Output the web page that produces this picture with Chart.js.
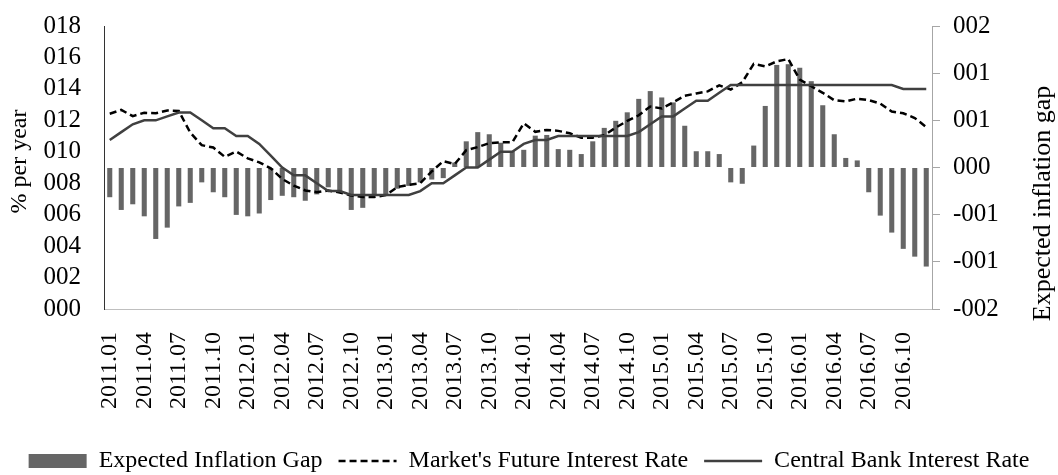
<!DOCTYPE html>
<html>
<head>
<meta charset="utf-8">
<script src="https://cdn.jsdelivr.net/npm/chart.js@4.4.1/dist/chart.umd.min.js"></script>
<style>
  html, body { margin: 0; padding: 0; background: #fff; }
  #wrap { width: 1058px; height: 475px; overflow: hidden; }
</style>
</head>
<body>
<div id="wrap"><canvas id="gapChart" width="1058" height="475"></canvas></div>
<script>
// ===== 데이터 =====
const months = [
  '2011.01','2011.02','2011.03','2011.04','2011.05','2011.06','2011.07','2011.08','2011.09','2011.10','2011.11','2011.12',
  '2012.01','2012.02','2012.03','2012.04','2012.05','2012.06','2012.07','2012.08','2012.09','2012.10','2012.11','2012.12',
  '2013.01','2013.02','2013.03','2013.04','2013.05','2013.06','2013.07','2013.08','2013.09','2013.10','2013.11','2013.12',
  '2014.01','2014.02','2014.03','2014.04','2014.05','2014.06','2014.07','2014.08','2014.09','2014.10','2014.11','2014.12',
  '2015.01','2015.02','2015.03','2015.04','2015.05','2015.06','2015.07','2015.08','2015.09','2015.10','2015.11','2015.12',
  '2016.01','2016.02','2016.03','2016.04','2016.05','2016.06','2016.07','2016.08','2016.09','2016.10','2016.11','2016.12'
];

// expected inflation gap (right axis)
const inflationGap = [
  -0.42, -0.60, -0.52, -0.69, -1.01, -0.85, -0.55, -0.50, -0.21, -0.35, -0.42, -0.67,
  -0.69, -0.65, -0.46, -0.40, -0.42, -0.47, -0.38, -0.28, -0.35, -0.60, -0.57, -0.40,
  -0.40, -0.30, -0.26, -0.21, -0.17, -0.15, 0.07, 0.37, 0.50, 0.47, 0.35, 0.23,
  0.25, 0.45, 0.46, 0.26, 0.25, 0.19, 0.37, 0.56, 0.66, 0.78, 0.97, 1.08,
  0.99, 0.92, 0.59, 0.23, 0.23, 0.19, -0.21, -0.23, 0.31, 0.87, 1.45, 1.46,
  1.41, 1.22, 0.88, 0.47, 0.135, 0.10, -0.35, -0.68, -0.92, -1.15, -1.26, -1.40
];

// market's future interest rate (left axis)
const marketRate = [
  12.42, 12.66, 12.27, 12.48, 12.45, 12.63, 12.60, 11.22, 10.42, 10.27, 9.68, 10.02,
  9.58, 9.33, 8.95, 8.27, 7.85, 7.54, 7.43, 7.54, 7.41, 7.22, 7.12, 7.12,
  7.24, 7.75, 7.90, 8.00, 8.75, 9.40, 9.22, 10.10, 10.30, 10.55, 10.60, 10.60,
  11.81, 11.27, 11.39, 11.33, 11.18, 10.90, 10.90, 11.05, 11.54, 11.96, 12.32, 12.88,
  12.75, 13.15, 13.56, 13.71, 13.84, 14.23, 13.96, 14.42, 15.59, 15.43, 15.75, 15.90,
  14.59, 14.17, 13.75, 13.28, 13.20, 13.38, 13.28, 13.07, 12.56, 12.45, 12.15, 11.57
];

// central bank interest rate (left axis)
const centralRate = [
  10.75, 11.25, 11.75, 12.00, 12.00, 12.25, 12.50, 12.50, 12.00, 11.50, 11.50, 11.00,
  11.00, 10.50, 9.75, 9.00, 8.50, 8.50, 8.00, 7.50, 7.50, 7.25, 7.25, 7.25,
  7.25, 7.25, 7.25, 7.50, 8.00, 8.00, 8.50, 9.00, 9.00, 9.50, 10.00, 10.00,
  10.50, 10.75, 10.75, 11.00, 11.00, 11.00, 11.00, 11.00, 11.00, 11.00, 11.25, 11.75,
  12.25, 12.25, 12.75, 13.25, 13.25, 13.75, 14.25, 14.25, 14.25, 14.25, 14.25, 14.25,
  14.25, 14.25, 14.25, 14.25, 14.25, 14.25, 14.25, 14.25, 14.25, 14.00, 14.00, 14.00
];

const leftTicks = ['000', '002', '004', '006', '008', '010', '012', '014', '016', '018'];
const rightTicks = ['-002', '-001', '-001', '000', '001', '001', '002'];
const seriesNames = ['Expected Inflation Gap', "Market's Future Interest Rate", 'Central Bank Interest Rate'];
const leftTitle = '% per year';
const rightTitle = 'Expected inflation gap';

const FONT = 'Liberation Serif';

// 축 제목 (세로, 아래에서 위로)
const axisTitles = {
  id: 'axisTitles',
  afterDraw(chart) {
    const ctx = chart.ctx;
    const mid = chart.chartArea.top + (chart.chartArea.bottom - chart.chartArea.top) / 2;
    ctx.save();
    ctx.fillStyle = '#000';
    ctx.textAlign = 'center';
    ctx.textBaseline = 'middle';
    [[20, mid - 6, 24, leftTitle], [1043, mid + 36, 26, rightTitle]].forEach(([x, y, size, t]) => {
      ctx.save();
      ctx.font = size + 'px "' + FONT + '"';
      ctx.translate(x, y);
      ctx.rotate(-Math.PI / 2);
      ctx.fillText(t, 0, 0);
      ctx.restore();
    });
    ctx.restore();
  }
};

// 범례: 선 스타일(점선/두께)을 데이터셋에서 가져오기
function legendLabels(c) {
  return Chart.defaults.plugins.legend.labels.generateLabels(c).map(item => {
    const ds = c.data.datasets[item.datasetIndex];
    if (ds.type === 'line') {
      item.lineDash = ds.borderDash || [];
      item.lineWidth = ds.borderWidth;
      item.strokeStyle = ds.borderColor;
    } else {
      item.lineWidth = 0;
    }
    return item;
  });
}

const chart = new Chart(document.getElementById('gapChart'), {
  type: 'bar',
  data: {
    labels: months,
    datasets: [
      {
        type: 'bar',
        label: seriesNames[0],
        data: inflationGap,
        yAxisID: 'y1',
        backgroundColor: '#666666',
        borderWidth: 0,
        barPercentage: 0.44,
        categoryPercentage: 1,
        pointStyle: 'rect',
        order: 2
      },
      {
        type: 'line',
        label: seriesNames[1],
        data: marketRate,
        yAxisID: 'y',
        borderColor: '#000000',
        backgroundColor: '#000000',
        borderWidth: 2.5,
        borderDash: [7, 4],
        pointRadius: 0,
        pointStyle: 'line',
        tension: 0,
        fill: false,
        order: 1
      },
      {
        type: 'line',
        label: seriesNames[2],
        data: centralRate,
        yAxisID: 'y',
        borderColor: '#404040',
        backgroundColor: '#404040',
        borderWidth: 2.5,
        pointRadius: 0,
        pointStyle: 'line',
        tension: 0,
        fill: false,
        order: 0
      }
    ]
  },
  options: {
    responsive: false,
    animation: false,
    layout: { padding: { top: 26, bottom: -8, left: 0, right: 0 } },
    plugins: {
      tooltip: { enabled: false },
      legend: {
        position: 'bottom',
        labels: {
          usePointStyle: true,
          pointStyleWidth: 58,
          boxHeight: 14,
          padding: 16,
          color: '#000',
          font: { family: FONT, size: 24 },
          generateLabels: legendLabels,
          sort: (a, b) => a.datasetIndex - b.datasetIndex
        }
      }
    },
    scales: {
      x: {
        grid: { display: false, drawTicks: false },
        border: { color: '#bfbfbf', width: 1 },
        ticks: {
          autoSkip: false,
          maxRotation: 90,
          minRotation: 90,
          padding: 23,
          color: '#000',
          font: { family: FONT, size: 24 },
          callback: (v, i) => (i % 3 === 0 ? months[i] : '')
        },
        afterFit: (s) => { s.height = 124; }
      },
      y: {
        position: 'left',
        min: 0,
        max: 18,
        grid: { display: true, drawOnChartArea: false, drawTicks: true, tickLength: 23, color: 'rgba(0,0,0,0)' },
        border: { color: '#333333', width: 1 },
        ticks: {
          stepSize: 2,
          autoSkip: false,
          padding: 0,
          color: '#000',
          font: { family: FONT, size: 25, lineHeight: 1 },
          callback: (v, i) => leftTicks[i]
        },
        afterFit: (s) => { s.width = 104; }
      },
      y1: {
        position: 'right',
        min: -2,
        max: 2,
        grid: { drawOnChartArea: false, color: '#a6a6a6', tickLength: 8 },
        border: { color: '#a6a6a6', width: 1 },
        ticks: {
          count: 7,
          autoSkip: false,
          padding: 13,
          color: '#000',
          font: { family: FONT, size: 25, lineHeight: 1 },
          callback: (v, i) => rightTicks[i]
        },
        afterFit: (s) => { s.width = 126; }
      }
    }
  },
  plugins: [axisTitles]
});
</script>
</body>
</html>
